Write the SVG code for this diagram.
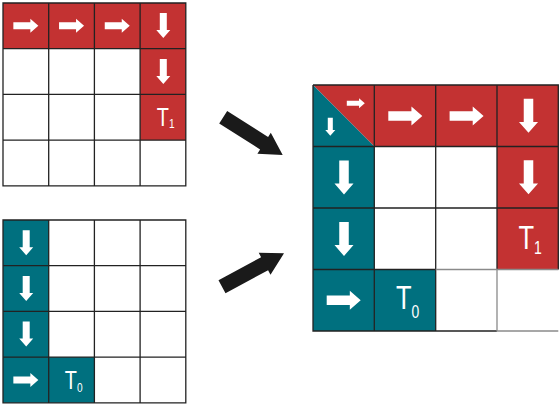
<svg xmlns="http://www.w3.org/2000/svg" xmlns:xlink="http://www.w3.org/1999/xlink" width="559" height="405" viewBox="0 0 559 405">
<style>
.red{fill:#c33232}
.teal{fill:#00707f}
.grid{fill:none;stroke:#222;stroke-width:1.3}
.gridl{fill:none;stroke:#8a8a8a;stroke-width:1.3}
.ar{fill:#fff}
.lbl{fill:#fff;font-family:"Liberation Sans",Arial,sans-serif}
.conn{fill:#1a1a1a}
</style>
<defs>
<path id="ar" d="M-12.5,-3.5 H4.5 V-7 L12.5,0 L4.5,7 V3.5 H-12.5 Z"/>
</defs>

<g id="grid-t1">
<rect class="red" x="3" y="3" width="182.8" height="45.7"/>
<rect class="red" x="140.1" y="48.7" width="45.7" height="91.4"/>
<path class="grid" d="M3,3 H185.8 V185.8 H3 Z M48.7,3 V185.8 M94.4,3 V185.8 M140.1,3 V185.8 M3,48.7 H185.8 M3,94.4 H185.8 M3,140.1 H185.8"/>
<use href="#ar" class="ar" transform="translate(25.85,25.85)"/>
<use href="#ar" class="ar" transform="translate(71.55,25.85)"/>
<use href="#ar" class="ar" transform="translate(117.25,25.85)"/>
<use href="#ar" class="ar" transform="translate(163.3,25.6) rotate(90)"/>
<use href="#ar" class="ar" transform="translate(163.3,71.4) rotate(90)"/>
<text class="lbl" transform="translate(156.8,125.7) scale(0.75,1)" font-size="26.5">T<tspan font-size="13.5" dy="2.6">1</tspan></text>
</g>

<g id="grid-t0">
<rect class="teal" x="3" y="220" width="45.7" height="182.8"/>
<rect class="teal" x="48.7" y="357.1" width="45.7" height="45.7"/>
<path class="grid" d="M3,220 H185.8 V402.8 H3 Z M48.7,220 V402.8 M94.4,220 V402.8 M140.1,220 V402.8 M3,265.7 H185.8 M3,311.4 H185.8 M3,357.1 H185.8"/>
<use href="#ar" class="ar" transform="translate(26.2,242.7) rotate(90)"/>
<use href="#ar" class="ar" transform="translate(26.2,288.4) rotate(90)"/>
<use href="#ar" class="ar" transform="translate(26.2,334.1) rotate(90)"/>
<use href="#ar" class="ar" transform="translate(25.85,379.95)"/>
<text class="lbl" transform="translate(64.8,388.7) scale(0.75,1)" font-size="26.5">T<tspan font-size="13.5" dy="3.3">0</tspan></text>
</g>

<g id="grid-merged">
<rect class="red" x="374.3" y="85" width="184" height="61.5"/>
<rect class="red" x="497" y="146.5" width="61.3" height="123"/>
<polygon class="red" points="313,85 374.3,85 374.3,146.5"/>
<polygon class="teal" points="313,85 374.3,146.5 313,146.5"/>
<rect class="teal" x="313" y="146.5" width="61.3" height="184.5"/>
<rect class="teal" x="374.3" y="269.5" width="61.4" height="61.5"/>
<path class="grid" d="M313,85 H558.3 V269.5 M313,85 V331 H497 M374.3,85 V331 M435.7,85 V331 M497,85 V269.5 M313,146.5 H558.3 M313,208 H558.3 M313,269.5 H435.7"/>
<path class="gridl" d="M435.7,269.5 H558.3 M497,269.5 V331 H558.3"/>
<use href="#ar" class="ar" transform="translate(355.8,103.3) scale(0.72)"/>
<use href="#ar" class="ar" transform="translate(330.3,126.8) scale(0.72) rotate(90)"/>
<use href="#ar" class="ar" transform="translate(405.3,116) scale(1.36)"/>
<use href="#ar" class="ar" transform="translate(466.6,116) scale(1.36)"/>
<use href="#ar" class="ar" transform="translate(528.5,115.8) scale(1.36) rotate(90)"/>
<use href="#ar" class="ar" transform="translate(528.5,177.3) scale(1.36) rotate(90)"/>
<use href="#ar" class="ar" transform="translate(344,177.5) scale(1.36) rotate(90)"/>
<use href="#ar" class="ar" transform="translate(344,239) scale(1.36) rotate(90)"/>
<use href="#ar" class="ar" transform="translate(343.7,300.3) scale(1.36)"/>
<text class="lbl" transform="translate(396,309) scale(0.75,1)" font-size="34">T<tspan font-size="18.6" dy="9">0</tspan></text>
<text class="lbl" transform="translate(518.5,249) scale(0.75,1)" font-size="34">T<tspan font-size="18.6" dy="4.5">1</tspan></text>
</g>

<g id="connectors">
<polygon class="conn" points="227.2,111.0 268.1,137.0 270.8,132.7 282.7,155 257.4,153.7 260.1,149.4 219.2,123.5"/>
<polygon class="conn" points="218.5,280.2 261.1,257.2 258.7,252.7 284,253.3 270.5,274.7 268.1,270.2 225.5,293.2"/>
</g>
</svg>
